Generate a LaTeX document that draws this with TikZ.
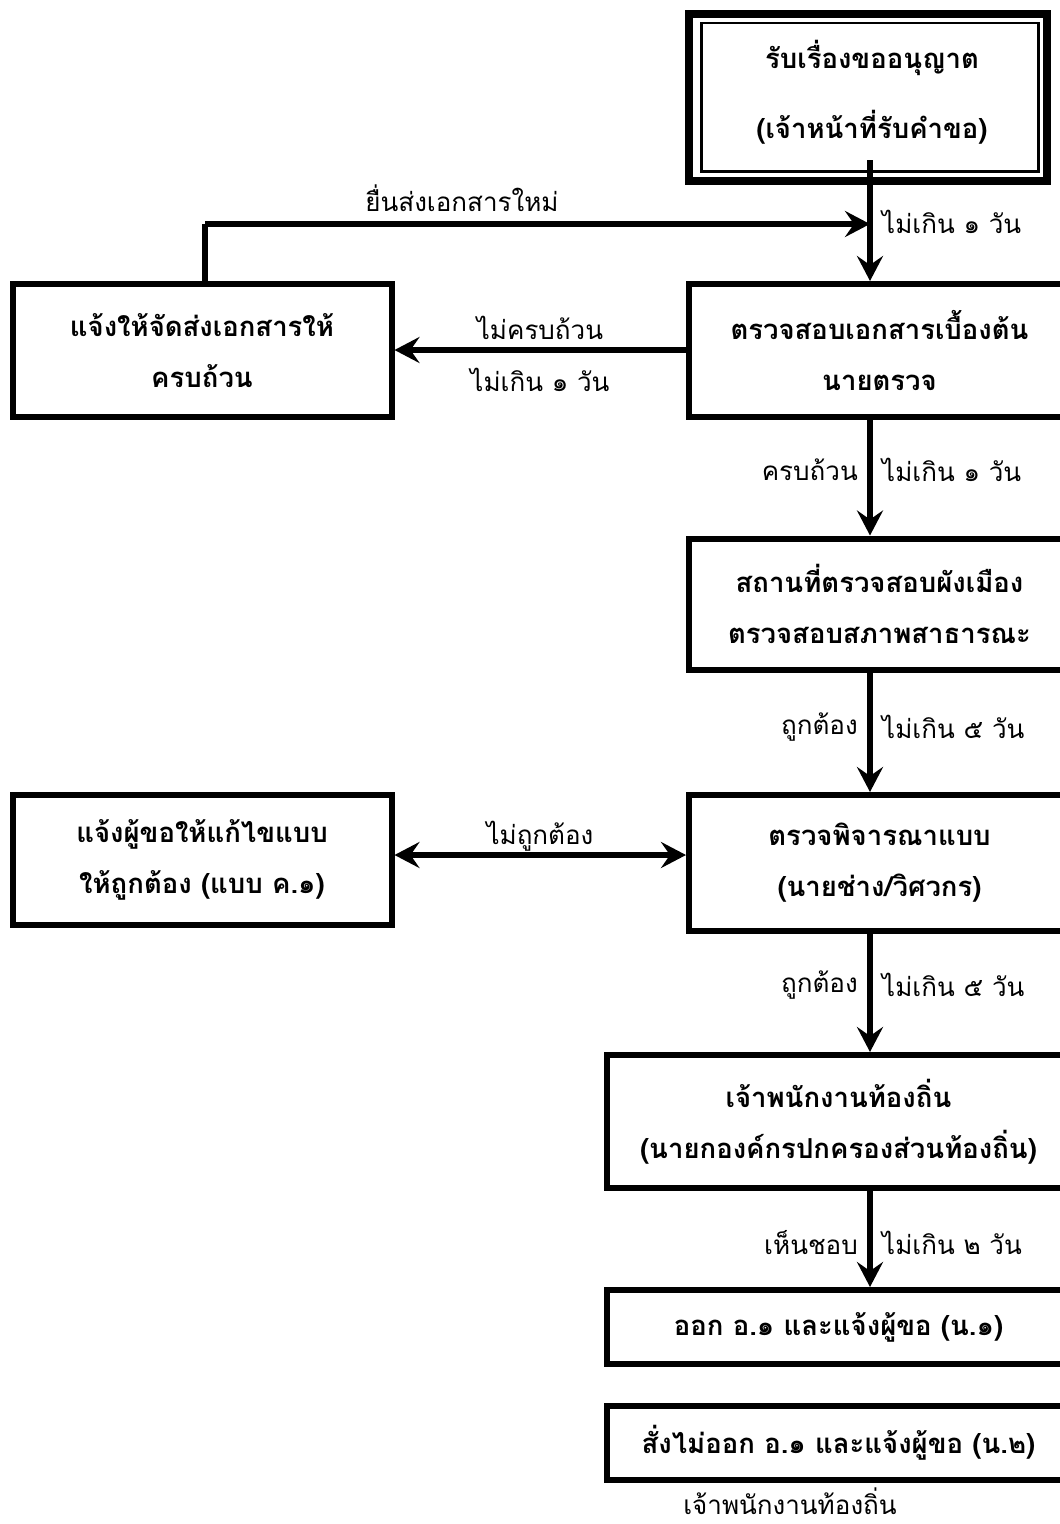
\documentclass[tikz,border=0pt]{standalone}
\usepackage{fontspec}
\newfontfamily\thaifont[Script=Thai]{Loma}
\usetikzlibrary{arrows.meta}
\begin{document}
\begin{tikzpicture}[x=1pt,y=-1pt,
  box/.style={draw, line width=6pt, inner sep=0pt, align=center,
    font=\thaifont\bfseries\fontsize{27.5}{51}\selectfont},
  lbl/.style={inner sep=0pt, font=\thaifont\fontsize{26}{30}\selectfont},
  arr/.style={line width=5.5pt, -{Stealth[length=25pt,width=26pt,inset=9pt]}},
  darr/.style={line width=5.5pt, {Stealth[length=25pt,width=26pt,inset=9pt]}-{Stealth[length=25pt,width=26pt,inset=9pt]}},
  ln/.style={line width=5.5pt}]
\useasboundingbox (0,0) rectangle (1060,1524);
\fill[white] (0,0) rectangle (1060,1524);
% top box (double border)
\node[box, line width=8pt, outer sep=0pt, minimum width=358pt, minimum height=167pt] (top) at (868,97) {};
\draw[line width=2.5pt] ([shift={(12.5,9.5)}]top.north west) rectangle ([shift={(-8.5,-9)}]top.south east);
\node[box, draw=none, font=\thaifont\bfseries\fontsize{27.5}{70}\selectfont] (toptext) at (872,92) {รับเรื่องขออนุญาต\\(เจ้าหน้าที่รับคำขอ)};
% main column
\node[box, minimum width=381pt, minimum height=133pt] (b2) at (879.5,350.5) {ตรวจสอบเอกสารเบื้องต้น\\นายตรวจ};
\node[box, minimum width=381pt, minimum height=131.5pt] (b3) at (879.5,604.25) {สถานที่ตรวจสอบผังเมือง\\ตรวจสอบสภาพสาธารณะ};
\node[box, minimum width=381pt, minimum height=136pt] (b4) at (879.5,863) {ตรวจพิจารณาแบบ\\(นายช่าง/วิศวกร)};
\node[box, minimum width=463pt, minimum height=133pt] (b5) at (838.5,1121.5) {เจ้าพนักงานท้องถิ่น\\(นายกองค์กรปกครองส่วนท้องถิ่น)};
\node[box, minimum width=463pt, minimum height=74pt] (b6) at (838.5,1327) {ออก อ.๑ และแจ้งผู้ขอ (น.๑)};
\node[box, minimum width=463pt, minimum height=74pt] (b7) at (838.5,1443) {สั่งไม่ออก อ.๑ และแจ้งผู้ขอ (น.๒)};
% left column
\node[box, minimum width=379pt, minimum height=133pt] (l1) at (202,350.5) {แจ้งให้จัดส่งเอกสารให้\\ครบถ้วน};
\node[box, minimum width=379pt, minimum height=130pt] (l2) at (202,860) {แจ้งผู้ขอให้แก้ไขแบบ\\ให้ถูกต้อง (แบบ ค.๑)};
% helper coordinates
\coordinate (ax) at (870,0);
\coordinate (t0) at (870,160);
\coordinate (fb) at (205,224);
% arrows
\draw[arr] (t0) -- (b2.north -| ax);
\draw[ln] (l1.north -| fb) -- (fb);
\draw[arr] (fb) -- (fb -| ax);
\draw[arr] (b2.west |- 0,350) -- (l1.east |- 0,350);
\draw[arr] (b2.south -| ax) -- (b3.north -| ax);
\draw[arr] (b3.south -| ax) -- (b4.north -| ax);
\draw[darr] (l2.east |- 0,855) -- (b4.west |- 0,855);
\draw[arr] (b4.south -| ax) -- (b5.north -| ax);
\draw[arr] (b5.south -| ax) -- (b6.north -| ax);
% labels
\node[lbl] (lfb) at (462,198) {ยื่นส่งเอกสารใหม่};
\node[lbl, anchor=west] (la1) at (882,222) {ไม่เกิน ๑ วัน};
\node[lbl] (lh1) at (540,328) {ไม่ครบถ้วน};
\node[lbl] (lh2) at (540,380) {ไม่เกิน ๑ วัน};
\node[lbl, anchor=east] (la2l) at (858,470) {ครบถ้วน};
\node[lbl, anchor=west] (la2r) at (882,470) {ไม่เกิน ๑ วัน};
\node[lbl, anchor=east] (la3l) at (858,727) {ถูกต้อง};
\node[lbl, anchor=west] (la3r) at (882,727) {ไม่เกิน ๕ วัน};
\node[lbl] (lh3) at (540,836) {ไม่ถูกต้อง};
\node[lbl, anchor=east] (la4l) at (858,985) {ถูกต้อง};
\node[lbl, anchor=west] (la4r) at (882,985) {ไม่เกิน ๕ วัน};
\node[lbl, anchor=east] (la5l) at (858,1243) {เห็นชอบ};
\node[lbl, anchor=west] (la5r) at (882,1243) {ไม่เกิน ๒ วัน};
\node[lbl] (lbot) at (790,1501) {เจ้าพนักงานท้องถิ่น};
\end{tikzpicture}
\end{document}
